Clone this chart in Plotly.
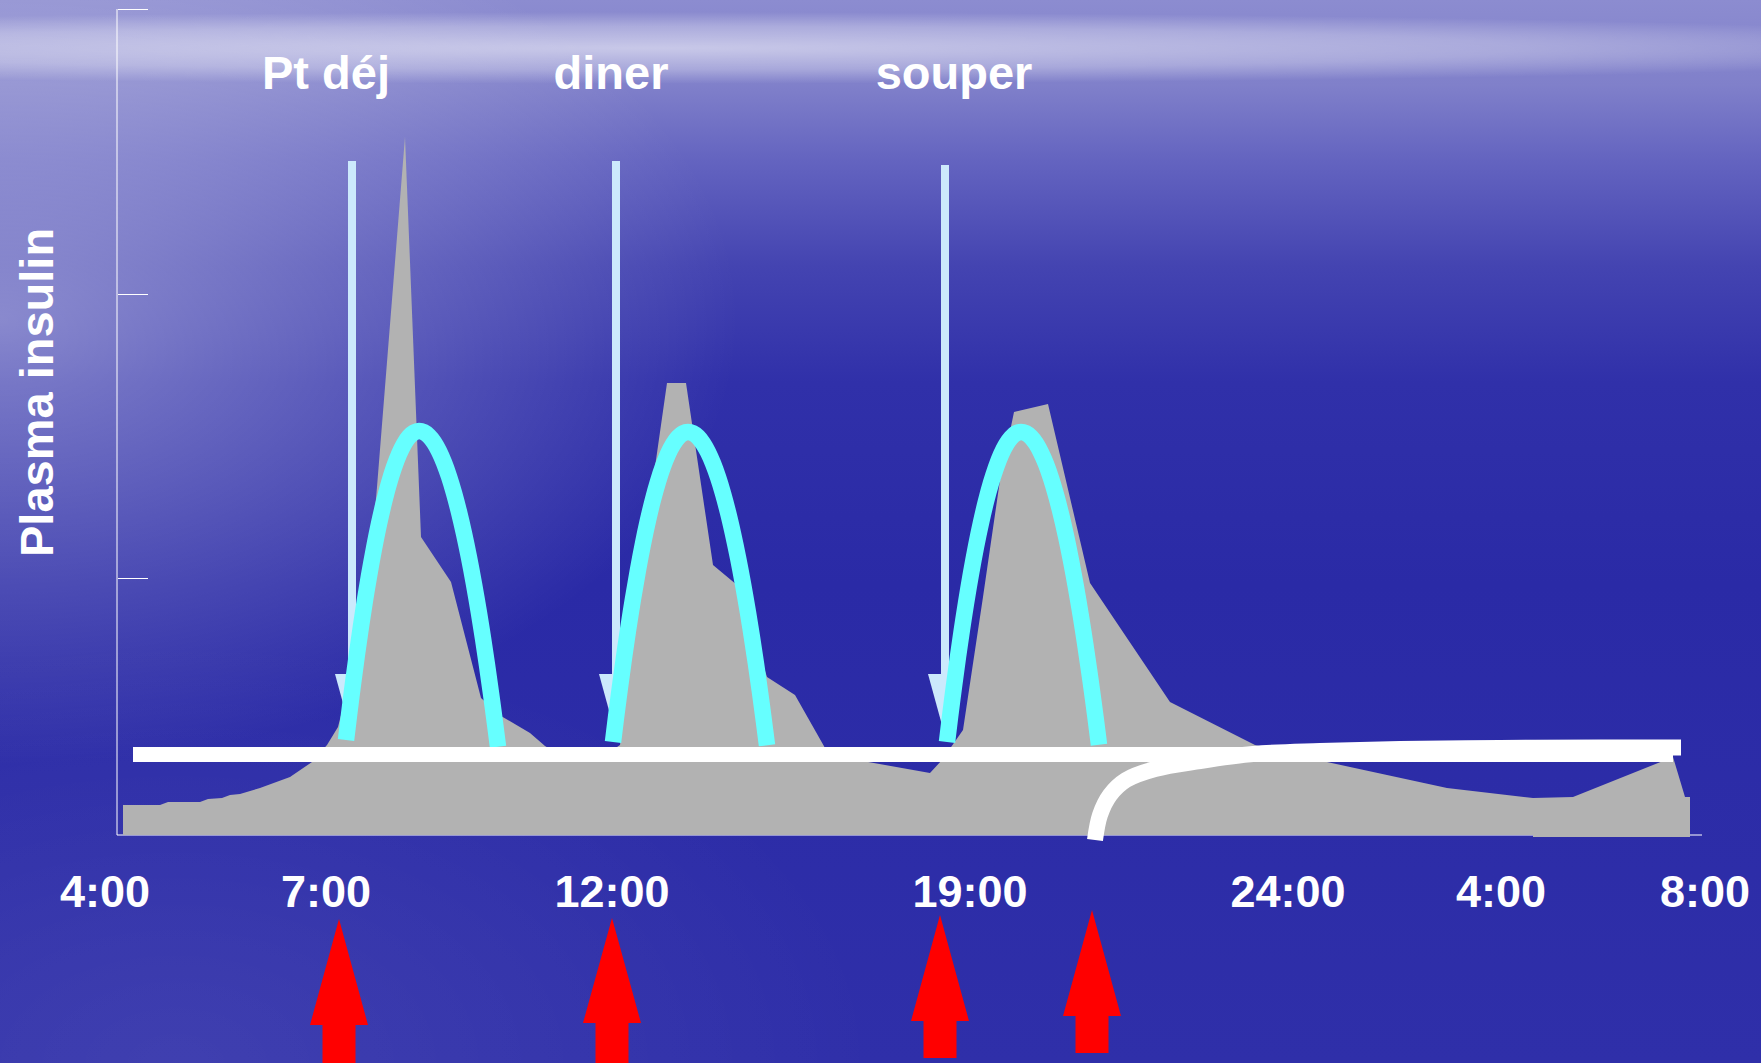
import base64
import plotly.graph_objects as go

# ---------------- data (chart units: x from y-axis, y from baseline) ----------------
tick_pos = [-12, 209, 495, 853, 1171, 1384, 1588]
tick_text = ["4:00", "7:00", "12:00", "19:00", "24:00", "4:00", "8:00"]
ytick_pos = [257, 541, 826]

# measured plasma insulin profile (grey area)
insulin_x = [6, 6, 43, 51, 83, 91, 105, 113, 123, 143, 173, 195, 210, 221, 238, 251, 260, 288,
             304, 334, 364, 384, 413, 428, 443, 488, 503, 519, 550, 569, 596, 620, 650, 678,
             712, 813, 825, 846, 866, 883, 897, 931, 973, 1053, 1138, 1210, 1330, 1416, 1456,
             1556, 1568, 1573, 1573, 1416, 1416]
insulin_y = [0, 30, 30, 33, 33, 36, 37, 40, 41, 47, 58, 73, 90, 108, 175, 245, 348, 698,
             298, 253, 137, 119, 102, 89, 80, 80, 90, 235, 452, 452, 270, 250, 158, 140,
             80, 62, 75, 105, 238, 355, 423, 431, 252, 133, 90, 73, 47, 37, 38,
             78, 38, 38, -2, -2, 0]

# idealised prandial insulin curves (cyan)
bolus1_x = [229, 232, 236, 240, 244, 248, 252, 257, 262, 267, 272, 277, 282, 287, 292, 297, 302,
            307, 312, 317, 322, 327, 332, 337, 342, 347, 352, 357, 362, 366, 370, 374, 378, 381]
bolus1_y = [94.9, 119.8, 151.4, 181.0, 208.9, 234.9, 259.0, 286.5, 311.2, 332.9, 351.8, 367.7,
            380.8, 390.9, 398.2, 402.5, 404.0,
            402.7, 398.9, 392.6, 383.8, 372.4, 358.5, 342.0, 323.0, 301.5, 277.5, 250.9, 221.8,
            196.7, 170.0, 141.7, 111.7, 88.2]
bolus2_x = [496, 499, 503, 507, 511, 516, 521, 526, 531, 536, 541, 546, 551, 556, 561, 566, 571,
            576, 581, 586, 591, 596, 601, 606, 611, 616, 621, 626, 631, 635, 639, 643, 647, 650]
bolus2_y = [93.1, 117.4, 148.2, 177.3, 204.6, 236.3, 265.2, 291.4, 314.8, 335.5, 353.4, 368.6,
            381.0, 390.6, 397.5, 401.6, 403.0,
            401.7, 398.0, 391.7, 382.9, 371.6, 357.8, 341.5, 322.7, 301.3, 277.5, 251.1, 222.3,
            197.4, 170.9, 142.8, 113.0, 89.7]
bolus3_x = [830, 833, 837, 841, 845, 849, 854, 859, 864, 869, 874, 879, 884, 889, 894, 899, 904,
            909, 914, 919, 924, 929, 934, 939, 944, 949, 954, 959, 964, 968, 972, 976, 979, 982]
bolus3_y = [93.1, 117.7, 148.9, 178.4, 206.0, 231.8, 261.5, 288.4, 312.4, 333.7, 352.1, 367.6,
            380.4, 390.3, 397.3, 401.6, 403.0,
            401.7, 397.9, 391.4, 382.4, 370.9, 356.7, 340.0, 320.8, 298.9, 274.5, 247.5, 218.0,
            192.5, 165.3, 136.5, 113.9, 90.3]

# basal levels (white)
basal_flat_x = [16, 1556]
basal_flat_y = [80.5, 80.5]
basal_curve_x = [978, 983, 993, 1009, 1038, 1083, 1136, 1203, 1283, 1383, 1483, 1564]
basal_curve_y = [-5, 20, 40, 55, 66, 74, 81, 84, 86, 87, 87.5, 87.5]

# meals
meal_names = ["Pt déj", "diner", "souper"]
meal_label_x = [209, 494, 837]
meal_label_y = [758, 758, 758]
meal_x = [235, 499, 828]
meal_top = [674, 674, 670]
meal_head_top = [161, 161, 161]
meal_head_tip = [99, 99, 99]

# injections (red arrows)
inj_x = [222, 495, 823, 975]
inj_tip = [-84, -83, -80, -75]
inj_head_base = [-190, -188, -186, -181]
inj_end = [-228, -228, -223, -218]

# ---------------- style ----------------
GREY = "#b2b2b2"
CYAN = "#66ffff"
PALE = "#cce9fc"
WHITE = "#ffffff"
RED = "#ff0000"
FONT = "Liberation Sans, Arial, sans-serif"
HEAD_HALF = 29
SHAFT_HALF = 16.5
MEAL_HEAD_HALF = 17

fig = go.Figure()

# meal arrows (behind the insulin area)
for mx, mt, ht, tip in zip(meal_x, meal_top, meal_head_top, meal_head_tip):
    fig.add_trace(go.Scatter(x=[mx, mx], y=[mt, ht], mode="lines",
                             line=dict(color=PALE, width=8), hoverinfo="skip"))
    fig.add_trace(go.Scatter(x=[mx - MEAL_HEAD_HALF, mx + MEAL_HEAD_HALF, mx, mx - MEAL_HEAD_HALF],
                             y=[ht, ht, tip, ht], mode="lines", fill="toself",
                             fillcolor=PALE, line=dict(width=0), hoverinfo="skip"))

# axis lines
fig.add_trace(go.Scatter(x=[0, 0], y=[0, ytick_pos[-1]], mode="lines",
                         line=dict(color=WHITE, width=1), hoverinfo="skip"))
fig.add_trace(go.Scatter(x=[0, 1585], y=[0, 0], mode="lines",
                         line=dict(color=WHITE, width=1), hoverinfo="skip"))

# insulin area
fig.add_trace(go.Scatter(x=insulin_x, y=insulin_y, mode="lines", fill="toself",
                         fillcolor=GREY, line=dict(width=0), hoverinfo="skip"))

# cyan bolus curves
for bx, by in [(bolus1_x, bolus1_y), (bolus2_x, bolus2_y), (bolus3_x, bolus3_y)]:
    fig.add_trace(go.Scatter(x=bx, y=by, mode="lines",
                             line=dict(color=CYAN, width=16.5, shape="spline", smoothing=1),
                             hoverinfo="skip"))

# white basal lines
fig.add_trace(go.Scatter(x=basal_flat_x, y=basal_flat_y, mode="lines",
                         line=dict(color=WHITE, width=15), hoverinfo="skip"))
fig.add_trace(go.Scatter(x=basal_curve_x, y=basal_curve_y, mode="lines",
                         line=dict(color=WHITE, width=16, shape="spline"), hoverinfo="skip"))

# red injection arrows
for ax_, tip, hb, end in zip(inj_x, inj_tip, inj_head_base, inj_end):
    xs = [ax_, ax_ + HEAD_HALF, ax_ + SHAFT_HALF, ax_ + SHAFT_HALF, ax_ - SHAFT_HALF, ax_ - SHAFT_HALF,
          ax_ - HEAD_HALF, ax_]
    ys = [tip, hb, hb, end, end, hb, hb, tip]
    fig.add_trace(go.Scatter(x=xs, y=ys, mode="lines", fill="toself", fillcolor=RED,
                             line=dict(width=0), hoverinfo="skip"))

# meal labels
fig.add_trace(go.Scatter(x=meal_label_x, y=meal_label_y, mode="text", text=meal_names,
                         textposition="middle center",
                         textfont=dict(family=FONT, size=47, color=WHITE, weight="bold"),
                         hoverinfo="skip"))

fig.add_annotation(x=-81, y=442, text="<b>Plasma insulin</b>", textangle=-90, showarrow=False,
                   font=dict(family=FONT, size=47, color=WHITE))

# background (slide-like gradient)
svg = """<svg xmlns="http://www.w3.org/2000/svg" width="1761" height="1063" viewBox="0 0 1761 1063" preserveAspectRatio="none">
<defs>
<linearGradient id="v" x1="0" y1="0" x2="0" y2="1">
<stop offset="0" stop-color="#8c8cd0"/>
<stop offset="0.08" stop-color="#8080ca"/>
<stop offset="0.15" stop-color="#6464c0"/>
<stop offset="0.25" stop-color="#4444b1"/>
<stop offset="0.36" stop-color="#3030a9"/>
<stop offset="0.55" stop-color="#2a2aa6"/>
<stop offset="1" stop-color="#2f2fa9"/>
</linearGradient>
<radialGradient id="g" cx="0" cy="0.3" r="0.42">
<stop offset="0" stop-color="#ffffff" stop-opacity="0.4"/>
<stop offset="0.5" stop-color="#ffffff" stop-opacity="0.2"/>
<stop offset="1" stop-color="#ffffff" stop-opacity="0"/>
</radialGradient>
<radialGradient id="b" cx="0.5" cy="0.5" r="0.5">
<stop offset="0" stop-color="#ffffff" stop-opacity="0.55"/>
<stop offset="0.6" stop-color="#ffffff" stop-opacity="0.3"/>
<stop offset="1" stop-color="#ffffff" stop-opacity="0"/>
</radialGradient>
<radialGradient id="w" cx="0.1" cy="1" r="0.4">
<stop offset="0" stop-color="#ffffff" stop-opacity="0.08"/>
<stop offset="1" stop-color="#ffffff" stop-opacity="0"/>
</radialGradient>
</defs>
<rect width="1761" height="1063" fill="url(#v)"/>
<rect width="1761" height="1063" fill="url(#g)"/>
<rect width="1761" height="1063" fill="url(#w)"/>
<ellipse cx="650" cy="48" rx="1450" ry="36" fill="url(#b)"/>
</svg>"""
src = "data:image/svg+xml;base64," + base64.b64encode(svg.encode()).decode()

fig.update_layout(
    width=1761, height=1063, autosize=False,
    margin=dict(l=0, r=0, t=0, b=0, pad=0),
    paper_bgcolor="#2b2ba6", plot_bgcolor="rgba(0,0,0,0)",
    showlegend=False,
    images=[dict(source=src, xref="paper", yref="paper", x=0, y=1, sizex=1, sizey=1,
                 sizing="stretch", layer="below", xanchor="left", yanchor="top")],
    xaxis=dict(range=[-117, 1644], domain=[0, 1], anchor="free", position=228 / 1063,
               showgrid=False, zeroline=False, showline=False, ticks="",
               tickmode="array", tickvals=tick_pos, ticktext=tick_text,
               tickfont=dict(family=FONT, size=45, color=WHITE, weight="bold"),
               ticklabelstandoff=26, fixedrange=True),
    yaxis=dict(range=[-228, 835], domain=[0, 1], anchor="free", position=117 / 1761,
               showgrid=False, zeroline=False, showline=False, showticklabels=False,
               ticks="inside", ticklen=30, tickwidth=1, tickcolor=WHITE,
               tickmode="array", tickvals=ytick_pos, fixedrange=True),
)

fig.write_html("out.html")
